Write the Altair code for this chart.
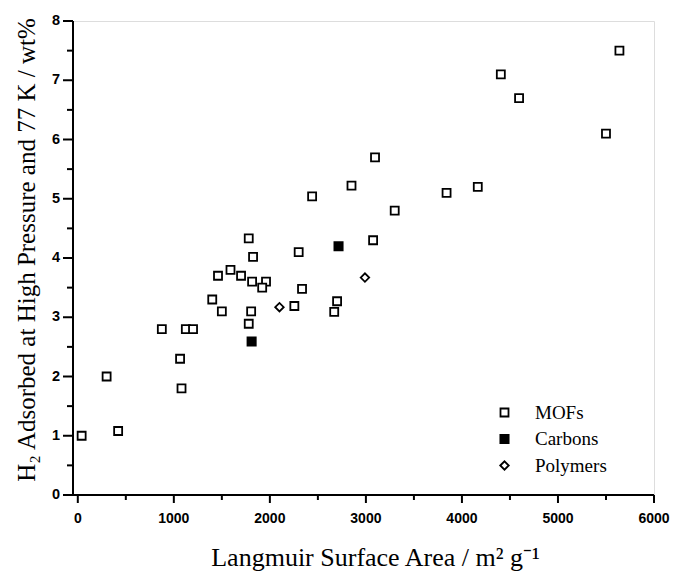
import altair as alt
import pandas as pd

mof_x = [40, 300, 420, 875, 1125, 1200, 1065, 1080, 1400, 1460, 1500, 1590, 1700,
         1780, 1825, 1815, 1960, 1920, 1805, 1780, 2255, 2335, 2300, 2440, 2850,
         3095, 3075, 2700, 2670, 3300, 3840, 4165, 4405, 4595, 5500, 5640]
mof_y = [1.0, 2.0, 1.08, 2.8, 2.8, 2.8, 2.3, 1.8, 3.3, 3.7, 3.1, 3.8, 3.7,
         4.33, 4.02, 3.6, 3.6, 3.5, 3.1, 2.89, 3.19, 3.48, 4.1, 5.04, 5.22,
         5.7, 4.3, 3.27, 3.09, 4.8, 5.1, 5.2, 7.1, 6.7, 6.1, 7.5]
carbon_x = [2715, 1810]
carbon_y = [4.2, 2.59]
polymer_x = [2100, 2990]
polymer_y = [3.17, 3.67]

types = ["MOFs", "Carbons", "Polymers"]
x_major = [0, 1000, 2000, 3000, 4000, 5000, 6000]
x_minor = [500, 1500, 2500, 3500, 4500, 5500]
y_major = [0, 1, 2, 3, 4, 5, 6, 7, 8]
y_minor = [0.5, 1.5, 2.5, 3.5, 4.5, 5.5, 6.5, 7.5]
x_title = "Langmuir Surface Area / m² g⁻¹"
y_title = "H₂ Adsorbed at High Pressure and 77 K / wt%"

W, H = 581, 474

df = pd.DataFrame(
    {"area": mof_x + carbon_x + polymer_x,
     "h2": mof_y + carbon_y + polymer_y,
     "type": ["MOFs"] * len(mof_x) + ["Carbons"] * len(carbon_x) + ["Polymers"] * len(polymer_x)}
)

xscale = alt.Scale(domain=[-50, 6000], nice=False, zero=False)
yscale = alt.Scale(domain=[0, 8], nice=False)

label_font = "Liberation Sans"
title_font = "Liberation Serif"

legend = alt.Legend(
    title=None, orient="none", legendX=422, legendY=382,
    labelFont=title_font, labelFontSize=19, labelColor="black",
    labelOffset=21, rowPadding=6.5, padding=0,
    symbolStrokeWidth=1.8,
)

points = alt.Chart(df).mark_point(
    filled=True, strokeWidth=1.8, opacity=1
).encode(
    x=alt.X("area:Q", scale=xscale, axis=None),
    y=alt.Y("h2:Q", scale=yscale, axis=None),
    shape=alt.Shape("type:N", scale=alt.Scale(domain=types, range=["square", "square", "diamond"]), legend=legend),
    fill=alt.Fill("type:N", scale=alt.Scale(domain=types, range=["white", "black", "white"]), legend=legend),
    stroke=alt.Stroke("type:N", scale=alt.Scale(domain=types, range=["black", "black", "black"]), legend=legend),
    size=alt.Size("type:N", scale=alt.Scale(domain=types, range=[64, 72, 190]), legend=legend),
)


def xticks(vals, length):
    return alt.Chart(pd.DataFrame({"v": vals})).mark_rule(
        color="black", strokeWidth=2
    ).encode(
        x=alt.X("v:Q", scale=xscale, axis=None),
        y=alt.value(H), y2=alt.value(H + length),
    )


def yticks(vals, length):
    return alt.Chart(pd.DataFrame({"v": vals})).mark_rule(
        color="black", strokeWidth=2
    ).encode(
        y=alt.Y("v:Q", scale=yscale, axis=None),
        x=alt.value(0), x2=alt.value(-length),
    )


one = pd.DataFrame({"k": [0]})

x_domain = alt.Chart(one).mark_rule(color="black", strokeWidth=2).encode(
    x=alt.value(-1), x2=alt.value(W), y=alt.value(H))
y_domain = alt.Chart(one).mark_rule(color="black", strokeWidth=2).encode(
    x=alt.value(0), y=alt.value(0), y2=alt.value(H + 1))

x_labels = alt.Chart(pd.DataFrame({"v": x_major})).mark_text(
    font=label_font, fontWeight="bold", fontSize=14, color="black",
    align="center", baseline="middle"
).encode(
    x=alt.X("v:Q", scale=xscale, axis=None),
    y=alt.value(H + 24),
    text=alt.Text("v:Q", format="d"),
)

y_labels = alt.Chart(pd.DataFrame({"v": y_major})).mark_text(
    font=label_font, fontWeight="bold", fontSize=14.5, color="black",
    align="right", baseline="middle"
).encode(
    y=alt.Y("v:Q", scale=yscale, axis=None),
    x=alt.value(-13),
    text=alt.Text("v:Q", format="d"),
)

x_title_mark = alt.Chart(pd.DataFrame({"t": [x_title]})).mark_text(
    font=title_font, fontSize=26, color="black", align="center", baseline="alphabetic"
).encode(
    x=alt.value(W / 2 + 12), y=alt.value(H + 71), text="t:N")

y_title_mark = alt.Chart(pd.DataFrame({"t": [y_title]})).mark_text(
    font=title_font, fontSize=25, color="black", align="center", baseline="middle", angle=270
).encode(
    x=alt.value(-46), y=alt.value(H / 2 - 8), text="t:N")

chart = alt.layer(
    points, xticks(x_major, 8), xticks(x_minor, 5), yticks(y_major, 10), yticks(y_minor, 6),
    x_domain, y_domain, x_labels, y_labels, x_title_mark, y_title_mark
).properties(
    width=W, height=H,
    autosize="none",
    padding={"left": 65, "top": 13, "right": 16, "bottom": 77},
).configure_view(
    stroke="#555555", strokeWidth=1.4
).configure(background="white")

chart.save("out.html", embed_options={"renderer": "svg", "actions": False})
